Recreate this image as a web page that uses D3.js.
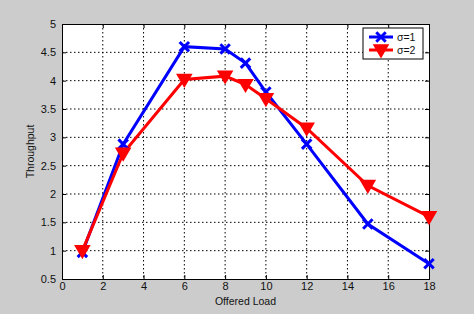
<!DOCTYPE html>
<html>
<head>
<meta charset="utf-8">
<script src="https://cdn.jsdelivr.net/npm/d3@7"></script>
<style>
  body { margin: 0; background: #cccccc; }
  text { font-family: "Liberation Sans", Arial, sans-serif; }
</style>
</head>
<body>
<script>
// Data
const load = [1, 3, 6, 8, 9, 10, 12, 15, 18];
const sigma1 = [0.97, 2.88, 4.6, 4.56, 4.31, 3.8, 2.88, 1.47, 0.77];
const sigma2 = [1.0, 2.72, 4.02, 4.08, 3.93, 3.68, 3.16, 2.15, 1.6];
const seriesNames = ["σ=1", "σ=2"];
const xTicks = [0, 2, 4, 6, 8, 10, 12, 14, 16, 18];
const yTicks = [0.5, 1, 1.5, 2, 2.5, 3, 3.5, 4, 4.5, 5];

// Dimensions
const W = 474, H = 314;
const margin = { top: 24, right: 45, bottom: 35, left: 62 };
const width = W - margin.left - margin.right;
const height = H - margin.top - margin.bottom;

const svg = d3.select("body")
    .append("svg")
    .attr("width", W)
    .attr("height", H);

svg.append("rect")
    .attr("width", W).attr("height", H)
    .attr("fill", "#cccccc");

const g = svg.append("g")
    .attr("transform", `translate(${margin.left},${margin.top})`);

const x = d3.scaleLinear().domain([0, 18]).range([0, width]);
const y = d3.scaleLinear().domain([0.5, 5]).range([height, 0]);

// Plot background
g.append("rect")
    .attr("width", width).attr("height", height)
    .attr("fill", "#ffffff");

// Grid
g.selectAll(".gx").data(xTicks.slice(1, -1)).enter().append("line")
    .attr("x1", d => x(d)).attr("x2", d => x(d))
    .attr("y1", 0).attr("y2", height)
    .attr("stroke", "#000").attr("stroke-width", 1)
    .attr("stroke-dasharray", "1.5,2.5");
g.selectAll(".gy").data(yTicks.slice(1, -1)).enter().append("line")
    .attr("y1", d => y(d)).attr("y2", d => y(d))
    .attr("x1", 0).attr("x2", width)
    .attr("stroke", "#000").attr("stroke-width", 1)
    .attr("stroke-dasharray", "1.5,2.5");

// Axes
g.append("g")
    .attr("transform", `translate(0,${height})`)
    .call(d3.axisBottom(x).tickValues(xTicks).tickSize(-4).tickPadding(3));
g.append("g")
    .call(d3.axisLeft(y).tickValues(yTicks).tickSize(-4).tickPadding(6)
        .tickFormat(d3.format("")));
g.append("g")
    .call(d3.axisTop(x).tickValues(xTicks).tickSize(-4).tickFormat(""));
g.append("g")
    .attr("transform", `translate(${width},0)`)
    .call(d3.axisRight(y).tickValues(yTicks).tickSize(-4).tickFormat(""));

g.selectAll(".domain").attr("stroke", "#000");
g.selectAll(".tick line").attr("stroke", "#000");
g.selectAll(".tick text")
    .attr("font-size", 11)
    .attr("fill", "#111")
    .style("font-family", "Liberation Sans, Arial, sans-serif");

// Axis labels
svg.append("text")
    .attr("x", margin.left + width / 2)
    .attr("y", 305)
    .attr("text-anchor", "middle")
    .attr("font-size", 10.5)
    .attr("fill", "#111")
    .text("Offered Load");
svg.append("text")
    .attr("transform", `translate(34,${margin.top + height / 2}) rotate(-90)`)
    .attr("text-anchor", "middle")
    .attr("font-size", 10.5)
    .attr("fill", "#111")
    .text("Throughput");

// Lines
const line = d3.line().x((d, i) => x(load[i])).y(d => y(d));
const colors = ["#0000ff", "#ff0000"];

g.append("path").datum(sigma1)
    .attr("d", line).attr("fill", "none")
    .attr("stroke", colors[0]).attr("stroke-width", 3);
g.append("path").datum(sigma2)
    .attr("d", line).attr("fill", "none")
    .attr("stroke", colors[1]).attr("stroke-width", 3);

// Markers
const xMark = d3.symbol().type(d3.symbolX).size(60);
const triDown = "M-7,-5L7,-5L0,7Z";

g.selectAll(".m1").data(sigma1).enter().append("path")
    .attr("transform", (d, i) => `translate(${x(load[i])},${y(d)})`)
    .attr("d", xMark())
    .attr("fill", "none")
    .attr("stroke", colors[0]).attr("stroke-width", 3);

g.selectAll(".m2").data(sigma2).enter().append("path")
    .attr("transform", (d, i) => `translate(${x(load[i])},${y(d)})`)
    .attr("d", triDown)
    .attr("fill", colors[1])
    .attr("stroke", colors[1]).attr("stroke-width", 1.5);

// Legend
const lg = svg.append("g").attr("transform", "translate(363,28)");
lg.append("rect")
    .attr("width", 60).attr("height", 31)
    .attr("fill", "#fff").attr("stroke", "#000").attr("stroke-width", 1);
seriesNames.forEach((name, i) => {
    const yy = 9 + i * 13;
    lg.append("line")
        .attr("x1", 6).attr("x2", 30).attr("y1", yy).attr("y2", yy)
        .attr("stroke", colors[i]).attr("stroke-width", 3);
    lg.append("path")
        .attr("transform", `translate(18,${yy})`)
        .attr("d", i === 0 ? xMark() : triDown)
        .attr("fill", i === 0 ? "none" : colors[i])
        .attr("stroke", colors[i]).attr("stroke-width", i === 0 ? 3 : 1.5);
    lg.append("text")
        .attr("x", 34).attr("y", yy + 4)
        .attr("font-size", 10.5)
        .attr("fill", "#111")
        .text(name);
});
</script>
</body>
</html>
